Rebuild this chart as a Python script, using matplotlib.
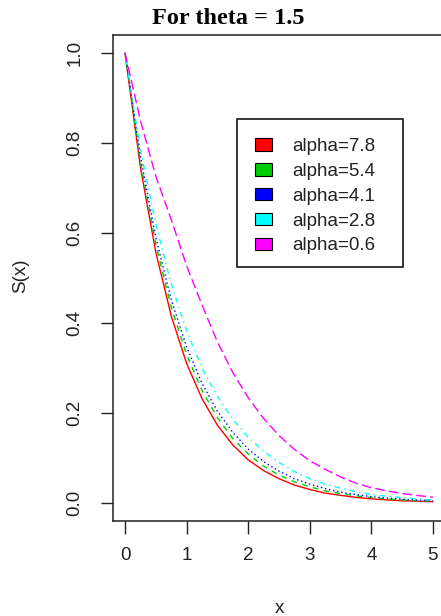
import matplotlib
matplotlib.use("Agg")
import matplotlib.pyplot as plt
from matplotlib.patches import Patch, Rectangle

# values (S(x) at x = 0, 0.25, ..., 5)
x_vals = [0.0, 0.25, 0.5, 0.75, 1.0, 1.25, 1.5, 1.75, 2.0, 2.25, 2.5,
          2.75, 3.0, 3.25, 3.5, 3.75, 4.0, 4.25, 4.5, 4.75, 5.0]

s_alpha_78 = [1.0, 0.746, 0.557, 0.416, 0.31, 0.232, 0.173, 0.129, 0.096, 0.072, 0.054,
              0.040, 0.030, 0.022, 0.017, 0.0125, 0.0093, 0.007, 0.005, 0.004, 0.003]
s_alpha_54 = [1.0, 0.758, 0.574, 0.435, 0.33, 0.25, 0.19, 0.143, 0.109, 0.082, 0.062,
              0.047, 0.036, 0.027, 0.021, 0.016, 0.012, 0.009, 0.007, 0.005, 0.004]
s_alpha_41 = [1.0, 0.77, 0.59, 0.452, 0.347, 0.266, 0.204, 0.157, 0.12, 0.092, 0.071,
              0.054, 0.042, 0.032, 0.024, 0.019, 0.014, 0.011, 0.0085, 0.0065, 0.005]
s_alpha_28 = [1.0, 0.785, 0.62, 0.487, 0.383, 0.30, 0.237, 0.186, 0.146, 0.115, 0.09,
              0.07, 0.054, 0.042, 0.033, 0.025, 0.019, 0.015, 0.012, 0.009, 0.007]
s_alpha_06 = [1.0, 0.85, 0.726, 0.63, 0.527, 0.44, 0.358, 0.29, 0.234, 0.188, 0.15,
              0.119, 0.094, 0.075, 0.058, 0.044, 0.034, 0.027, 0.021, 0.0166, 0.013]

labels = ["alpha=7.8", "alpha=5.4", "alpha=4.1", "alpha=2.8", "alpha=0.6"]
colors = ["#FF0000", "#00CD00", "#0000FF", "#00FFFF", "#FF00FF"]
styles = ["-", (0, (4, 4)), (0, (1, 2)), (0, (1, 3, 4, 3)), (0, (7, 3))]
series = [s_alpha_78, s_alpha_54, s_alpha_41, s_alpha_28, s_alpha_06]

plt.rcParams["font.family"] = ["Liberation Sans", "DejaVu Sans"]
W, H = 441, 616

fig = plt.figure(figsize=(4.41, 6.16), dpi=100)
ax = fig.add_axes([0.2556, 0.1542, 0.754, 0.789])

for s, c, ls in zip(series, colors, styles):
    ax.plot(x_vals, s, color=c, linestyle=ls, linewidth=1.0)

ax.set_xlim(-0.2, 5.2)
ax.set_ylim(-0.04, 1.04)
ax.set_xticks([0, 1, 2, 3, 4, 5])
ax.set_yticks([0.0, 0.2, 0.4, 0.6, 0.8, 1.0])
ax.set_yticklabels(["0.0", "0.2", "0.4", "0.6", "0.8", "1.0"], rotation=90, va="center")
ax.tick_params(axis="both", length=9, width=1.0, labelsize=13.5, colors="#222222")
ax.tick_params(axis="x", pad=10)
ax.tick_params(axis="y", pad=12)
for sp in ax.spines.values():
    sp.set_linewidth(1.1)
    sp.set_color("#222222")

# legend frame drawn separately so it can be as wide as in the reference
fig.patches.append(Rectangle((237 / W, 1 - 267 / H), (403 - 237) / W, (267 - 119) / H,
                             transform=fig.transFigure, facecolor="white",
                             edgecolor="black", linewidth=1.1, zorder=3))
handles = [Patch(facecolor=c, edgecolor="black", linewidth=0.8) for c in colors]
leg = fig.legend(handles, labels, loc="upper left",
                 bbox_to_anchor=(255 / W, 1 - 138 / H),
                 bbox_transform=fig.transFigure,
                 fontsize=13.5, frameon=False,
                 handlelength=0.9, handleheight=0.65, handletextpad=1.1,
                 borderpad=0, labelspacing=0.42, borderaxespad=0)
leg.set_zorder(4)
for t in leg.get_texts():
    t.set_color("#222222")

fig.text(228 / W, 1 - 19 / H, "For theta = 1.5", ha="center", va="center",
         fontfamily="Liberation Serif", fontweight="bold", fontsize=17.5)
fig.text(21 / W, 1 - 276 / H, "S(x)", rotation=90, ha="center", va="center",
         fontsize=13.5, color="#222222")
fig.text(279 / W, 1 - 613 / H, "x", ha="center", va="baseline",
         fontsize=13.5, color="#222222")

fig.savefig("out.png", dpi=100)
